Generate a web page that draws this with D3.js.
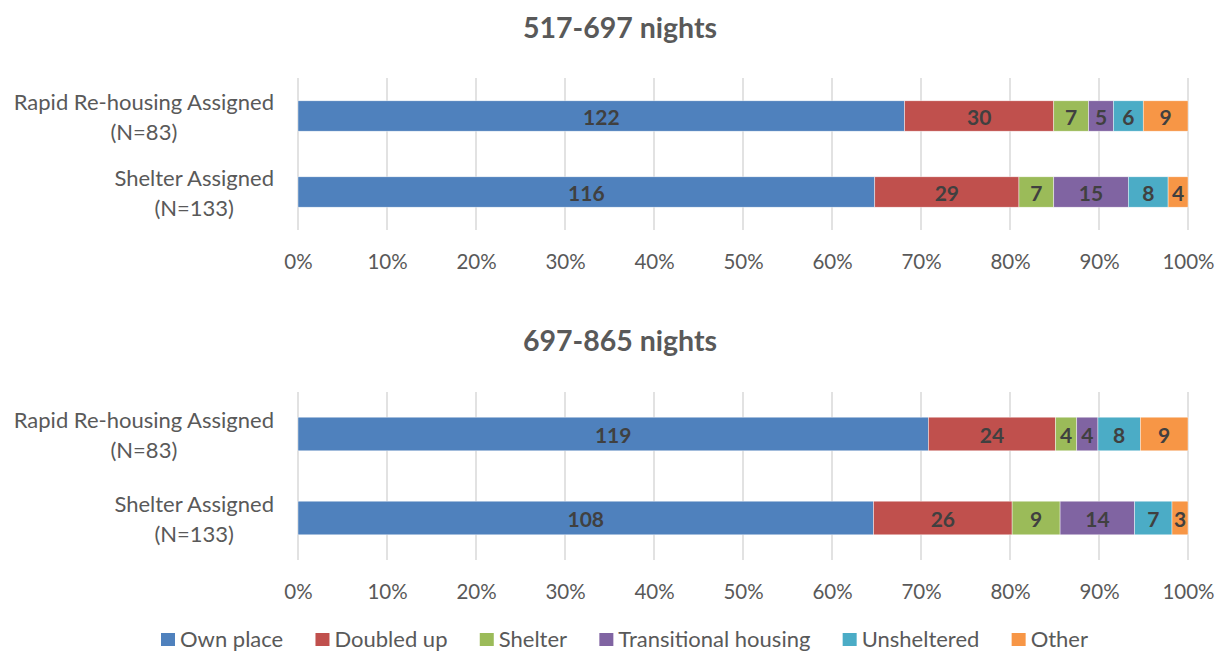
<!DOCTYPE html>
<html>
<head>
<meta charset="utf-8">
<script src="https://cdn.jsdelivr.net/npm/d3@7"></script>
<style>
  html, body { margin: 0; padding: 0; background: #fff; }
  svg { display: block; font-family: Lato, "Open Sans", sans-serif; }
</style>
</head>
<body>
<svg id="chart" width="1217" height="653"></svg>
<script>
// Housing status by assignment group, two follow-up windows
const seriesNames = ["Own place", "Doubled up", "Shelter", "Transitional housing", "Unsheltered", "Other"];
const seriesColors = ["#4F81BD", "#C0504D", "#9BBB59", "#8064A2", "#4BACC6", "#F79646"];
const groupLabels = [["Rapid Re-housing Assigned", "(N=83)"], ["Shelter Assigned", "(N=133)"]];
const panelTitles = ["517-697 nights", "697-865 nights"];
const tickValues = [0, 0.1, 0.2, 0.3, 0.4, 0.5, 0.6, 0.7, 0.8, 0.9, 1.0];

// Counts per group, in series order
const countsEarlyRRH = [122, 30, 7, 5, 6, 9];
const countsEarlyShelter = [116, 29, 7, 15, 8, 4];
const countsLateRRH = [119, 24, 4, 4, 8, 9];
const countsLateShelter = [108, 26, 9, 14, 7, 3];

const panels = [
  { title: panelTitles[0], rows: [countsEarlyRRH, countsEarlyShelter], titleY: 27, top: 78, bottom: 230, tickY: 262 },
  { title: panelTitles[1], rows: [countsLateRRH, countsLateShelter], titleY: 340, top: 392, bottom: 560, tickY: 592 }
];

const svg = d3.select("#chart");
const x = d3.scaleLinear().domain([0, 1]).range([298, 1188]);
const labelRight = 274;
const textColor = "#595959";

panels.forEach(p => {
  const g = svg.append("g");
  const y = d3.scaleBand().domain(d3.range(p.rows.length)).range([p.top, p.bottom])
    .paddingInner(0.6).paddingOuter(0.3);

  // title
  g.append("text").attr("x", 620).attr("y", p.titleY).attr("text-anchor", "middle")
    .attr("dominant-baseline", "central").attr("font-size", 28.5).attr("font-weight", 700)
    .attr("fill", textColor).text(p.title);

  // vertical gridlines
  g.append("g").selectAll("line").data(tickValues).join("line")
    .attr("x1", d => x(d)).attr("x2", d => x(d))
    .attr("y1", p.top).attr("y2", p.bottom)
    .attr("stroke", "#d9d9d9").attr("stroke-width", 1.5);

  // x axis tick labels
  const axis = d3.axisBottom(x).tickValues(tickValues).tickFormat(d3.format(".0%")).tickSize(0).tickPadding(0);
  const ax = g.append("g").attr("transform", `translate(0,${p.tickY})`).call(axis);
  ax.select(".domain").remove();
  ax.selectAll("text").attr("font-size", 20.5).attr("fill", textColor)
    .attr("font-family", "Lato, 'Open Sans', sans-serif").attr("dy", "0.35em").attr("y", 0);

  // stacked bars
  p.rows.forEach((counts, i) => {
    const total = d3.sum(counts);
    const shares = counts.map(c => c / total);
    let acc = 0;
    const segs = shares.map((s, k) => { const seg = { k, x0: acc, x1: acc + s, v: counts[k] }; acc += s; return seg; });
    const row = g.append("g");
    row.selectAll("rect").data(segs).join("rect")
      .attr("x", d => x(d.x0)).attr("width", d => x(d.x1) - x(d.x0))
      .attr("y", y(i)).attr("height", y.bandwidth())
      .attr("fill", d => seriesColors[d.k])
      .attr("stroke", "#ffffff").attr("stroke-width", 0.6).attr("stroke-opacity", 0.7);
    row.selectAll("text").data(segs).join("text")
      .attr("x", d => (x(d.x0) + x(d.x1)) / 2).attr("y", y(i) + y.bandwidth() / 2)
      .attr("text-anchor", "middle").attr("dominant-baseline", "central")
      .attr("font-size", 21).attr("font-weight", 700).attr("fill", "#404040")
      .text(d => d.v);

    // category label, two centered lines, right-aligned as a block
    const lab = g.append("text").attr("font-size", 22).attr("fill", textColor).attr("text-anchor", "middle");
    const cy = y(i) + y.bandwidth() / 2;
    groupLabels[i].forEach((line, li) => {
      lab.append("tspan").attr("y", cy + (li - 0.5) * 30).attr("dominant-baseline", "central").text(line);
    });
    const widths = [];
    lab.selectAll("tspan").each(function () { widths.push(this.getComputedTextLength()); });
    const cx = labelRight - d3.max(widths) / 2;
    lab.selectAll("tspan").attr("x", cx);
  });
});

// legend, spread between fixed left and right edges
const legendLeft = 161, legendRight = 1088;
const legend = svg.append("g");
const items = legend.selectAll("g").data(seriesNames).join("g");
items.append("rect").attr("width", 14).attr("height", 13).attr("y", 633)
  .attr("fill", (d, i) => seriesColors[i]);
items.append("text").attr("x", 19).attr("y", 647)
  .attr("font-size", 22).attr("fill", textColor).text(d => d);
const itemWidths = [];
items.each(function () {
  itemWidths.push(19 + d3.select(this).select("text").node().getComputedTextLength());
});
const gap = (legendRight - legendLeft - d3.sum(itemWidths)) / (itemWidths.length - 1);
let cursor = legendLeft;
const offsets = itemWidths.map(w => { const o = cursor; cursor += w + gap; return o; });
items.attr("transform", (d, i) => `translate(${offsets[i]},0)`);
</script>
</body>
</html>
